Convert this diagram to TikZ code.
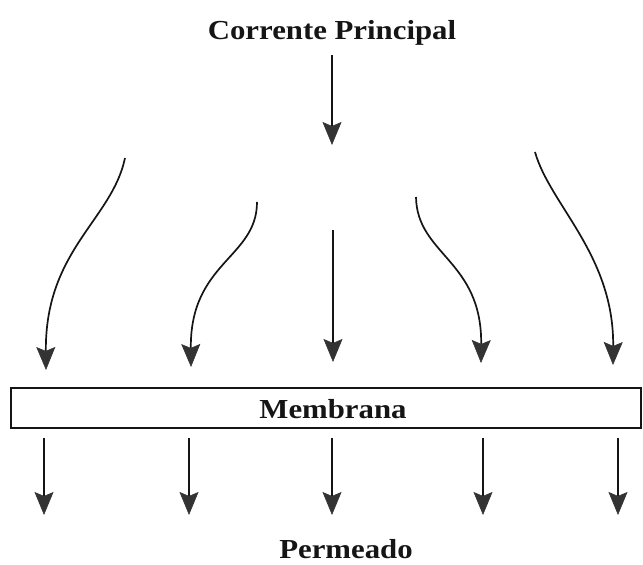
\documentclass[tikz,border=0pt]{standalone}
\usepackage{fontspec}
\setmainfont[FakeStretch=1.12]{Liberation Serif}
\usetikzlibrary{arrows.meta}
\definecolor{headgray}{HTML}{333333}
\definecolor{inkblack}{HTML}{151515}
\tikzset{
  flow/.style={draw=inkblack, line width=1.7pt,
    -{Stealth[length=23pt,width=19pt,inset=4pt,line width=0.6pt,color=headgray]}},
  lbl/.style={font=\fontsize{27.5}{30}\selectfont\bfseries, inner sep=0pt, anchor=base, text=inkblack},
}
\begin{document}
\begin{tikzpicture}[x=1pt,y=-1pt]
\useasboundingbox (0,0) rectangle (643,565);
% labels
\node[lbl] (title) at (332,39) {Corrente Principal};
\node[lbl] (perm) at (346,558) {Permeado};
% membrane box
\node[draw=inkblack, line width=1.8pt, minimum width=630pt, minimum height=40pt, inner sep=0pt] (memb) at (326,408) {};
\node[lbl] (mtext) at (333,418) {Membrana};
% top arrow
\coordinate (t0) at (332,55);
\coordinate (t1) at (332,145);
\draw[flow] (t0) -- (t1);
% upper arrows
\coordinate (a0) at (125,158); \coordinate (a1) at (46,370);
\coordinate (b0) at (257,202); \coordinate (b1) at (191,367);
\coordinate (c0) at (333,230); \coordinate (c1) at (333,362);
\coordinate (d0) at (416,197); \coordinate (d1) at (481,363);
\coordinate (e0) at (535,152); \coordinate (e1) at (613,365);
\draw[flow] (a0) .. controls (112,220) and (45,250) .. (a1);
\draw[flow] (b0) .. controls (257,258) and (190,262) .. (b1);
\draw[flow] (c0) -- (c1);
\draw[flow] (d0) .. controls (417,255) and (482,260) .. (d1);
\draw[flow] (e0) .. controls (550,205) and (614,255) .. (e1);
% lower arrows
\foreach \n/\x in {p/44,q/189,r/332,s/483,u/618}{
  \coordinate (\n0) at (\x,438);
  \coordinate (\n1) at (\x,515);
  \draw[flow] (\n0) -- (\n1);
}
\end{tikzpicture}
\end{document}
